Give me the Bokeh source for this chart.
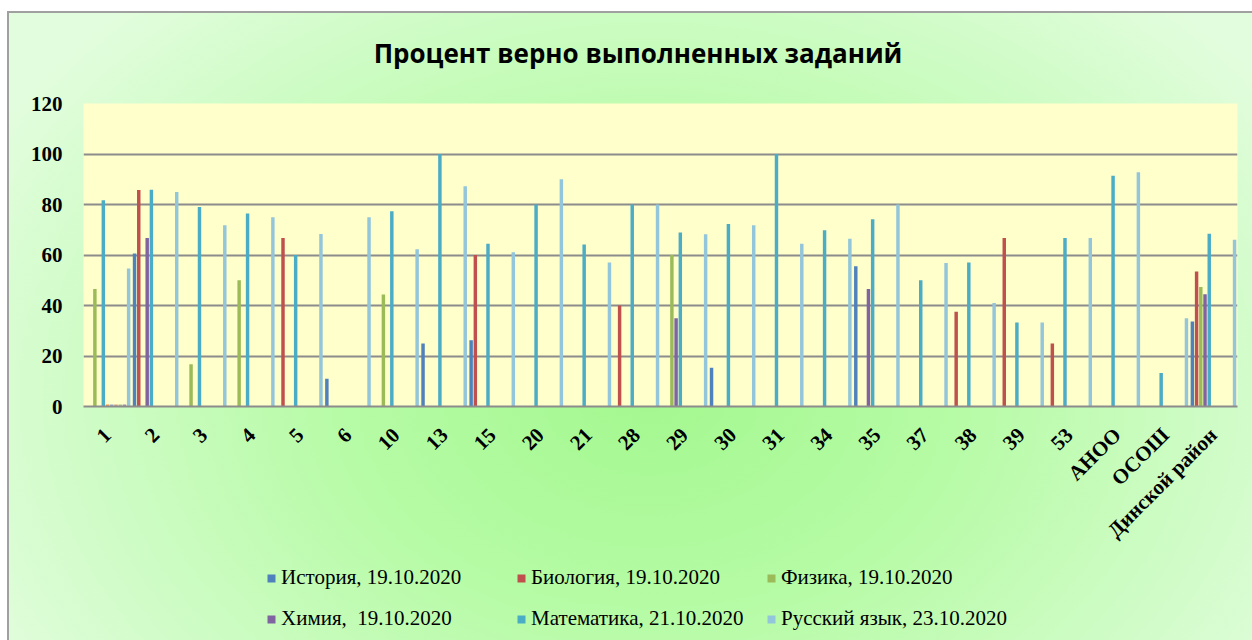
import math
from bokeh.plotting import figure
from bokeh.layouts import column
from bokeh.models import ColumnDataSource, Range1d, FactorRange, Legend, LegendItem, FixedTicker, Label
from bokeh.transform import dodge
from bokeh.embed import file_html
from bokeh.resources import INLINE

title_text = "Процент верно выполненных заданий"

categories = ["1", "2", "3", "4", "5", "6", "10", "13", "15", "20", "21", "28",
              "29", "30", "31", "34", "35", "37", "38", "39", "53",
              "АНОО", "ОСОШ", "Динской район"]

istoriya   = [0, 60.6, 0, 0, 0, 11, 0, 25, 26.2, 0, 0, 0, 0, 15.3, 0, 0, 55.5, 0, 0, 0, 0, 0, 0, 33.7]
biologiya  = [0, 85.7, 0, 0, 66.7, 0, 0, 0, 60, 0, 0, 40, 0, 0, 0, 0, 0, 0, 37.5, 66.7, 25, 0, 0, 53.5]
fizika     = [46.5, 0, 16.7, 50, 0, 0, 44.4, 0, 0, 0, 0, 0, 60, 0, 0, 0, 0, 0, 0, 0, 0, 0, 0, 47.3]
himiya     = [0, 66.7, 0, 0, 0, 0, 0, 0, 0, 0, 0, 0, 35, 0, 0, 0, 46.5, 0, 0, 0, 0, 0, 0, 44.5]
matematika = [81.7, 85.8, 79, 76.4, 60, 0, 77.3, 100, 64.5, 80, 64.2, 80, 68.9, 72.3, 100, 69.8,
              74.2, 50, 57, 33.3, 66.7, 91.4, 13.3, 68.4]
russkiy    = [54.7, 85, 71.8, 75, 68.3, 75, 62.3, 87.2, 61.1, 90, 57, 80, 68.2, 71.8, 64.5, 66.4,
              80, 56.8, 41, 33.3, 66.7, 92.8, 35, 66]

# five unnamed series that only show tiny bars in the first category
extra_1 = [0.8] + [0] * 23
extra_2 = [0.8] + [0] * 23
extra_3 = [0.8] + [0] * 23
extra_4 = [0.8] + [0] * 23
extra_5 = [0.8] + [0] * 23

legend_labels = ["История, 19.10.2020", "Биология, 19.10.2020", "Физика, 19.10.2020",
                 "Химия,  19.10.2020", "Математика, 21.10.2020", "Русский язык, 23.10.2020"]

series = [
    (istoriya, "#4F81BD", legend_labels[0]),
    (biologiya, "#C0504D", legend_labels[1]),
    (fizika, "#9BBB59", legend_labels[2]),
    (himiya, "#8064A2", legend_labels[3]),
    (matematika, "#4BACC6", legend_labels[4]),
    (extra_1, "#F79646", None),
    (extra_2, "#8FA9D0", None),
    (extra_3, "#D99694", None),
    (extra_4, "#A9C17E", None),
    (extra_5, "#9D8CB6", None),
    (russkiy, "#93C6DA", legend_labels[5]),
]

W = 1252
H0 = 80
H1 = 480
H2 = 80

# title strip (its frame is aligned with the chart frame: x 83..1237)
p0 = figure(x_range=Range1d(83, 1237), y_range=Range1d(0, H0), width=W, height=H0,
            output_backend="svg", toolbar_location=None,
            x_axis_location=None, y_axis_location=None,
            min_border=0, min_border_left=0, min_border_right=0,
            min_border_top=0, min_border_bottom=0)
p0.grid.visible = False
p0.outline_line_color = None
p0.border_fill_color = None
p0.background_fill_color = None
p0.add_layout(Label(x=637.5, y=H0 - 52, text=title_text, text_align="center",
                    text_baseline="middle", text_font="Open Sans", text_font_size="26px",
                    text_font_style="bold", text_color="#000000"))

p1 = figure(x_range=FactorRange(*categories), y_range=Range1d(0, 120),
            width=W, height=H1, output_backend="svg", toolbar_location=None,
            min_border_left=83, min_border_right=15, min_border_top=103 - H0,
            min_border_bottom=H0 + H1 - 406)

p1.border_fill_color = None
p1.background_fill_color = "#FFFFCC"
p1.outline_line_color = None

n = len(series)
pitch = 0.0877
for k, (vals, color, label) in enumerate(series):
    src = ColumnDataSource(dict(cat=categories, val=vals))
    off = (k - (n - 1) / 2) * pitch
    p1.vbar(x=dodge("cat", off, range=p1.x_range), top="val", bottom=0, width=0.072,
            source=src, fill_color=color, line_color=None)

p1.ygrid.ticker = FixedTicker(ticks=[0, 20, 40, 60, 80, 100, 120])
p1.yaxis.ticker = FixedTicker(ticks=[0, 20, 40, 60, 80, 100, 120])
p1.ygrid.grid_line_color = "#8c8c8c"
p1.ygrid.grid_line_width = 2
p1.xgrid.grid_line_color = None

p1.yaxis.axis_line_color = None
p1.yaxis.major_tick_line_color = None
p1.yaxis.minor_tick_line_color = None
p1.yaxis.major_tick_out = 0
p1.yaxis.major_label_standoff = 21
p1.yaxis.major_label_text_font = "Liberation Serif"
p1.yaxis.major_label_text_font_style = "bold"
p1.yaxis.major_label_text_font_size = "21px"
p1.yaxis.major_label_text_color = "#000000"

p1.xaxis.axis_line_color = "#8c8c8c"
p1.xaxis.axis_line_width = 2
p1.xaxis.major_tick_line_color = None
p1.xaxis.minor_tick_line_color = None
p1.xaxis.major_tick_out = 0
p1.xaxis.major_label_orientation = math.pi / 4
p1.xaxis.major_label_standoff = 25
p1.xaxis.major_label_text_font = "Liberation Serif"
p1.xaxis.major_label_text_font_style = "bold"
p1.xaxis.major_label_text_font_size = "21px"
p1.xaxis.major_label_text_color = "#000000"

# legend strip below the chart
p2 = figure(x_range=Range1d(0, 1), y_range=Range1d(0, 1), width=W, height=H2,
            output_backend="svg", toolbar_location=None,
            x_axis_location=None, y_axis_location=None,
            min_border=0, min_border_left=0, min_border_right=0,
            min_border_top=0, min_border_bottom=0)
p2.grid.visible = False
p2.outline_line_color = None
p2.border_fill_color = None
p2.background_fill_color = None

items = []
for vals, color, label in series:
    if label is None:
        continue
    r = p2.quad(left=[-6], right=[-5], top=[-5], bottom=[-6], fill_color=color, line_color=None)
    items.append(LegendItem(label=label, renderers=[r]))

legend = Legend(items=items, orientation="horizontal", ncols=3,
                location=(183, 9), padding=0, margin=0, spacing=16,
                glyph_width=10, glyph_height=10, label_standoff=5,
                label_width=219, label_height=23,
                label_text_font="Liberation Serif", label_text_font_size="21px",
                label_text_color="#000000",
                border_line_color=None, background_fill_alpha=0)
p2.add_layout(legend, "center")

p = column(p0, p1, p2, spacing=0)
p.styles = {
    "background-image": "radial-gradient(ellipse 60% 85% at 52% 62%, #a4f890 0%, #b6fba5 40%, #cffcc6 75%, #e2fddd 100%)",
    "box-shadow": "inset 7px 11px 0 #ffffff, inset 9px 13px 0 #a0a0a0",
}

open("out.html", "w").write(file_html(p, INLINE))
